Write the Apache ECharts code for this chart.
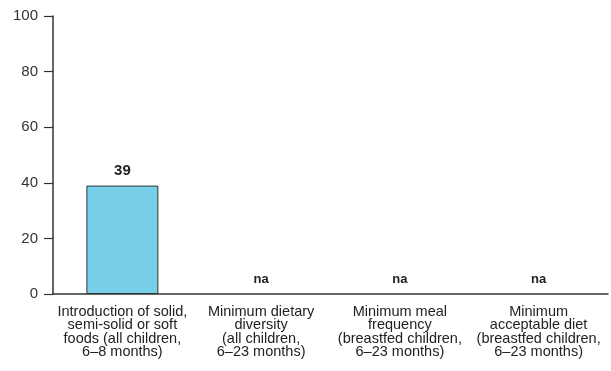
<!DOCTYPE html>
<html><head><meta charset="utf-8">
<script src="https://cdn.jsdelivr.net/npm/echarts@6/dist/echarts.min.js"></script>
<style>html,body{margin:0;padding:0;background:#fff}#c{width:611px;height:371px}</style>
</head><body><div id="c"></div>
<script>
const categories = [
  "Introduction of solid,\nsemi-solid or soft\nfoods (all children,\n6–8 months)",
  "Minimum dietary\ndiversity\n(all children,\n6–23 months)",
  "Minimum meal\nfrequency\n(breastfed children,\n6–23 months)",
  "Minimum\nacceptable diet\n(breastfed children,\n6–23 months)"
];
const values = [39, null, null, null];
const yTicks = [0, 20, 40, 60, 80, 100];

const font = '"Liberation Sans", Arial, sans-serif';
const naData = values.map(v => v == null ? 0 : '-');

const chart = echarts.init(document.getElementById('c'));
chart.setOption({
  animation: false,
  grid: { left: 53, right: 3, top: 16, bottom: 77 },
  xAxis: {
    type: 'category', data: categories,
    axisLine: { lineStyle: { color: '#333', width: 1.5 } },
    axisTick: { show: false },
    axisLabel: { interval: 0, color: '#222', fontFamily: font, fontSize: 14.5, lineHeight: 13.5, margin: 11 }
  },
  yAxis: {
    type: 'value', min: yTicks[0], max: yTicks[yTicks.length - 1], interval: 20,
    splitLine: { show: false },
    axisLine: { show: true, lineStyle: { color: '#333', width: 1.5 } },
    axisTick: { show: true, length: 9, lineStyle: { color: '#333', width: 1.2 } },
    axisLabel: { color: '#333', fontFamily: font, fontSize: 15, margin: 15 }
  },
  series: [
    {
      type: 'bar', data: values, barWidth: 72, barGap: '-100%',
      itemStyle: { color: '#77CFEA', borderColor: '#333', borderWidth: 1 },
      label: { show: true, position: 'top', distance: 7, color: '#222', fontFamily: font, fontSize: 15, fontWeight: 'bold' }
    },
    {
      type: 'bar', data: naData, barWidth: 72,
      itemStyle: { color: 'transparent' },
      label: { show: true, position: 'top', distance: 8, formatter: 'na', color: '#222', fontFamily: font, fontSize: 13, fontWeight: 'bold' }
    }
  ]
});
</script></body></html>
